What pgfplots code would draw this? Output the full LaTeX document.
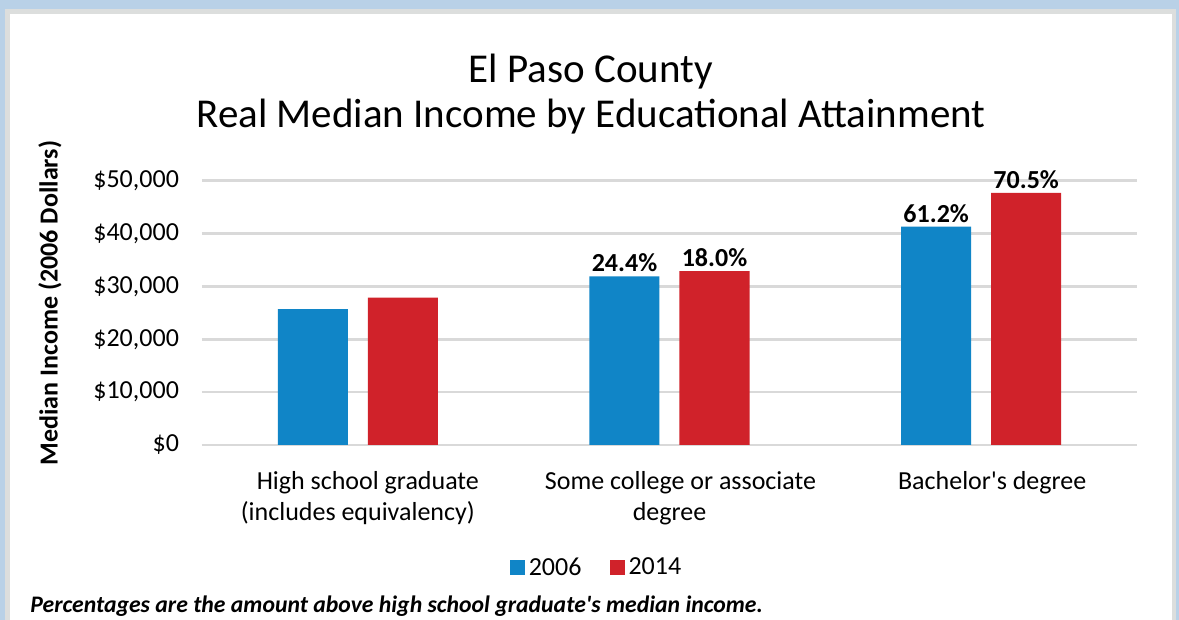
\documentclass[border=0pt]{standalone}
\usepackage{fontspec}
\setmainfont{Carlito}[Ligatures=TeXOff]
\usepackage{pgfplots}
\pgfplotsset{compat=1.18}
\definecolor{bgblue}{HTML}{B9D1E7}
\definecolor{framegray}{HTML}{DCDEDD}
\definecolor{barblue}{HTML}{1085C7}
\definecolor{barred}{HTML}{D0222A}
\definecolor{gridgray}{HTML}{D9D9D9}
\newcommand{\tickfont}{\fontsize{13}{15.5}\selectfont}
\begin{document}
\begin{tikzpicture}[x=0.5pt,y=0.5pt]
\fill[bgblue] (0,0) rectangle (1179,620);
\fill[framegray] (5,-10) rectangle (1176,611);
\fill[white] (10,-10) rectangle (1172,606);
\begin{axis}[
  at={(101pt,87.5pt)}, anchor=south west,
  scale only axis, width=467.5pt, height=132.15pt,
  ymin=0, ymax=50000, xmin=-0.5, xmax=2.5,
  ybar=10pt, bar width=35pt,
  axis line style={draw=none},
  tick style={draw=none},
  major tick length=0pt,
  scaled y ticks=false,
  ytick={0,10000,20000,30000,40000,50000},
  yticklabels={{\$0},{\$10,000},{\$20,000},{\$30,000},{\$40,000},{\$50,000}},
  ymajorgrids, grid style={gridgray, line width=1.3pt},
  xtick={0,1,2},
  xticklabels={{\hspace*{10pt}High school graduate\\(includes equivalency)},{\hspace*{11pt}Some college or associate\\degree},{\hspace*{11pt}Bachelor's degree}},
  xticklabel style={align=center, font=\tickfont, anchor=north, yshift=-9.5pt},
  yticklabel style={font=\tickfont, anchor=east, xshift=-8pt},
  clip=false,
  nodes near coords,
  point meta=explicit symbolic,
  nodes near coords style={font=\bfseries\tickfont, anchor=south, inner sep=2pt},
  legend style={at={(0.423,-0.465)}, anchor=center, draw=none, fill=none,
    font=\tickfont, legend columns=2,
    /tikz/every even column/.append style={column sep=12pt}},
  legend image code/.code={\fill[#1] (0pt,-3.75pt) rectangle (7.5pt,3.75pt);},
]
\addplot[fill=barblue, draw=none] coordinates {(0,25700) [] (1,31900) [24.4\%] (2,41300) [61.2\%]};
\addplot[fill=barred, draw=none] coordinates {(0,27900) [] (1,32900) [18.0\%] (2,47700) [70.5\%]};
\legend{2006,2014}
\end{axis}
\node[anchor=base, font=\fontsize{20.5}{25}\selectfont] at (591,537) {El Paso County};
\node[anchor=base, font=\fontsize{20.5}{25}\selectfont] at (591,492) {Real Median Income by Educational Attainment};
\node[rotate=90, font=\bfseries\tickfont] at (50,317) {Median Income (2006 Dollars)};
\node[anchor=base west, inner sep=0pt, font=\bfseries\itshape\fontsize{11.85}{14}\selectfont] at (30,7) {Percentages are the amount above high school graduate's median income.};
\pgfresetboundingbox
\path (0,0) rectangle (1179,620);
\end{tikzpicture}
\end{document}
